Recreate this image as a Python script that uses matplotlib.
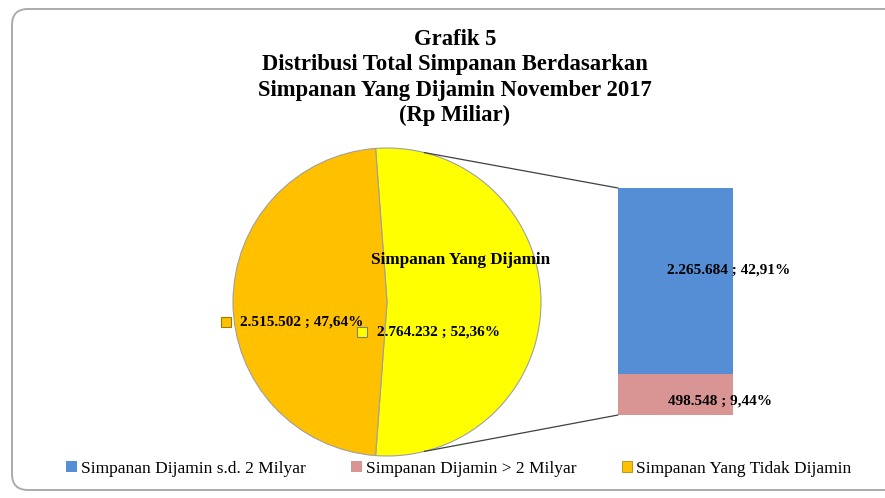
import matplotlib
matplotlib.use("Agg")
import matplotlib.pyplot as plt
import numpy as np
from matplotlib.patches import FancyBboxPatch, Patch, ConnectionPatch

# ---- data ----
pie_labels = ["Simpanan Yang Dijamin", "Simpanan Yang Tidak Dijamin"]
pie_values = [2764232, 2515502]
pie_pct = ["52,36%", "47,64%"]
pie_text = ["2.764.232", "2.515.502"]

bar_labels = ["Simpanan Dijamin > 2 Milyar", "Simpanan Dijamin s.d. 2 Milyar"]
bar_values = [498548, 2265684]
bar_pct = ["9,44%", "42,91%"]
bar_text = ["498.548", "2.265.684"]

title_lines = ["Grafik 5",
               "Distribusi Total Simpanan Berdasarkan",
               "Simpanan Yang Dijamin November 2017",
               "(Rp Miliar)"]

C_YELLOW = "#FFFF00"
C_ORANGE = "#FFC000"
C_BLUE = "#558ED5"
C_PINK = "#D99594"

SERIF = ["Liberation Serif", "DejaVu Serif"]
plt.rcParams["font.family"] = SERIF

W, H = 885, 498
fig = plt.figure(figsize=(W / 100, H / 100), dpi=100)

# border
border = FancyBboxPatch((0.12, 0.08), 9.5, 4.81,
                        boxstyle="round,pad=0,rounding_size=0.16",
                        transform=fig.dpi_scale_trans, fill=False,
                        edgecolor="#ABABAB", lw=1.4, clip_on=False)
fig.patches.append(border)

# title
fig.text(455 / W, 1 - 77.5 / H, "\n".join(title_lines), ha="center", va="center",
         fontsize=16.3, fontweight="bold", linespacing=1.28)

# ---- pie ----
cx, cy, r = 387, 302, 154
ax_pie = fig.add_axes([(cx - r) / W, (H - cy - r) / H, 2 * r / W, 2 * r / H])
total_pie = sum(pie_values)
half = pie_values[0] / total_pie * 360 / 2
wedges, _ = ax_pie.pie(pie_values, colors=[C_YELLOW, C_ORANGE], startangle=-half,
                       counterclock=True, radius=1,
                       wedgeprops=dict(edgecolor="#A0A0A0", linewidth=0.8))
ax_pie.set_xlim(-1, 1)
ax_pie.set_ylim(-1, 1)
ax_pie.set_aspect("auto")
ax_pie.axis("off")

ax_pie.text(0.48, 0.27, pie_labels[0], ha="center", va="center", fontsize=12.3,
            fontweight="bold")
ax_pie.text(-0.065, -0.195, f"{pie_text[0]} ; {pie_pct[0]}", ha="left", va="center",
            fontsize=11, fontweight="bold")
ax_pie.plot([-0.16], [-0.195], marker="s", ms=6.5, mfc=C_YELLOW, mec="#7F7F7F",
            mew=0.8, clip_on=False)
ax_pie.text(-0.955, -0.13, f"{pie_text[1]} ; {pie_pct[1]}", ha="left", va="center",
            fontsize=11, fontweight="bold")
ax_pie.plot([-1.045], [-0.13], marker="s", ms=6.5, mfc=C_ORANGE, mec="#9A7A00",
            mew=0.8, clip_on=False)

# ---- bar ----
bx0, bx1, by0, by1 = 618, 733, 415, 188
ax_bar = fig.add_axes([bx0 / W, (H - by0) / H, (bx1 - bx0) / W, (by0 - by1) / H])
total_bar = sum(bar_values)
ax_bar.bar([0], [bar_values[0]], width=1, color=C_PINK, edgecolor="none")
ax_bar.bar([0], [bar_values[1]], bottom=[bar_values[0]], width=1, color=C_BLUE,
           edgecolor="none")
ax_bar.set_xlim(-0.5, 0.5)
ax_bar.set_ylim(0, total_bar)
ax_bar.axis("off")

ax_bar.text(0.465, bar_values[0] + bar_values[1] * 0.56, f"{bar_text[1]} ; {bar_pct[1]}",
            ha="center", va="center", fontsize=11, fontweight="bold", clip_on=False)
ax_bar.text(0.386, bar_values[0] * 0.35, f"{bar_text[0]} ; {bar_pct[0]}",
            ha="center", va="center", fontsize=11, fontweight="bold", clip_on=False)

# connector lines
ang = np.deg2rad(76)
for sgn, yb in [(1, total_bar), (-1, 0)]:
    con = ConnectionPatch(xyA=(np.cos(ang), sgn * np.sin(ang)), coordsA=ax_pie.transData,
                          xyB=(-0.5, yb), coordsB=ax_bar.transData,
                          color="#404040", lw=0.9)
    fig.add_artist(con)

# ---- legend ----
handles = [Patch(facecolor=C_BLUE, edgecolor="none", label=bar_labels[1]),
           Patch(facecolor=C_PINK, edgecolor="none", label=bar_labels[0]),
           Patch(facecolor=C_ORANGE, edgecolor="#9A7A00", lw=0.5, label=pie_labels[1])]
fig.legend(handles=handles, loc="center", bbox_to_anchor=(459 / W, 1 - 469 / H),
           ncol=3, frameon=False, fontsize=12.5, handlelength=0.6, handleheight=0.6,
           handletextpad=0.25, columnspacing=2.6, borderpad=0)

fig.savefig("out.png", dpi=100)
